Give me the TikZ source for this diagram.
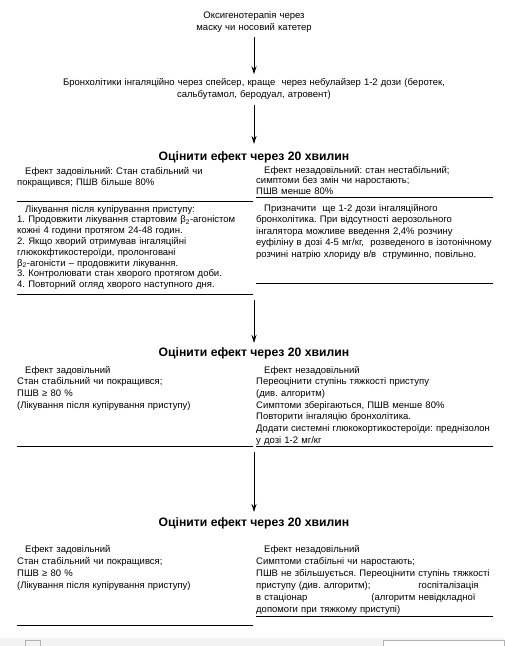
\documentclass[tikz,border=0pt]{standalone}
\usepackage{fontspec}
\setmainfont{Liberation Sans}
\usetikzlibrary{arrows.meta,positioning}
\frenchspacing

\tikzset{
	txt/.style={font=\fontsize{9.5}{11.5}\selectfont,text width=245pt,align=left,anchor=base west,inner sep=0pt},
	mid/.style={font=\fontsize{9.5}{12}\selectfont,text width=440pt,align=center,anchor=base,inner sep=0pt},
	head/.style={font=\fontsize{12.2}{14}\selectfont\bfseries,anchor=base,inner sep=0pt},
	arr/.style={-{Stealth[length=8pt,width=5pt]},line width=0.9pt},
	rule/.style={line width=0.9pt}
}
\newcommand{\ind}{\hspace*{8pt}}

\begin{document}
\begin{tikzpicture}[x=1pt,y=-1pt]
		\useasboundingbox (0,0) rectangle (504,646);
		\node[mid] (oxy) at (254,18) {Оксигенотерапія через\\маску чи носовий катетер};
		\node[mid] (bronch) at (254,85) {Бронхолітики інгаляційно через спейсер, краще\ \ через небулайзер 1-2 дози (беротек,\\сальбутамол, беродуал, атровент)};
		\draw[arr,shorten <=5pt,shorten >=3.5pt] (oxy) -- (bronch);

		\node[head] (eval1) at (254,160) {Оцінити ефект через 20 хвилин};
		\draw[arr,shorten <=5.5pt,shorten >=7pt] (bronch) -- (eval1);

		% first check
		\node[txt] (ok1) at (17,174) {\ind Ефект задовільний: Стан стабільний чи\\покращився; ПШВ більше 80\%};
		\node[txt,font=\fontsize{9.5}{10.8}\selectfont] (care1) at (17,212) {\ind Лікування після купірування приступу:\\
			1. Продовжити лікування стартовим β\textsubscript{2}-агоністом\\
			кожні 4 години протягом 24-48 годин.\\
			2. Якщо хворий отримував інгаляційні\\
			глюкокфтикостероїди, пролонговані\\
			β\textsubscript{2}-агоністи – продовжити лікування.\\
			3. Контролювати стан хворого протягом доби.\\
			4. Повторний огляд хворого наступного дня.};
		\node[txt,font=\fontsize{9.5}{10.8}\selectfont] (bad1) at (256,173) {\ind Ефект незадовільний: стан нестабільний;\\симптоми без змін чи наростають;\\ПШВ менше 80\%};
		\node[txt,font=\fontsize{9.5}{11.5}\selectfont] (more1) at (256,211) {\ind Призначити\ \ ще 1-2 дози інгаляційного\\
			бронхолітика. При відсутності аерозольного\\
			інгалятора можливе введення 2,4\% розчину\\
			еуфіліну в дозі 4-5 мг/кг,\ \ розведеного в ізотонічному\\
			розчині натрію хлориду в/в\ \ струминно, повільно.};
		\draw[rule] (17,201) -- (253,201);
		\draw[rule] (17,294) -- (253,294);
		\draw[rule] (256,197) -- (493,197);
		\draw[rule] (256,283) -- (493,283);

		\coordinate (after1) at (254,300);
		\node[head] (eval2) at (254,356) {Оцінити ефект через 20 хвилин};
		\draw[arr,shorten >=4pt] (after1) -- (eval2);

		% second check
		\node[txt,font=\fontsize{9.5}{11.7}\selectfont] (ok2) at (17,373) {\ind Ефект задовільний\\Стан стабільний чи покращився;\\ПШВ ≥ 80 \%\\(Лікування після купірування приступу)};
		\node[txt,font=\fontsize{9.5}{11.7}\selectfont] (bad2) at (256,373) {\ind Ефект незадовільний\\
			Переоцінити ступінь тяжкості приступу\\
			(див. алгоритм)\\
			Симптоми зберігаються, ПШВ менше 80\%\\
			Повторити інгаляцію бронхолітика.\\
			Додати системні глюкокортикостероїди: преднізолон\\
			у дозі 1-2 мг/кг};
		\draw[rule] (17,446) -- (253,446);
		\draw[rule] (256,446) -- (493,446);

		\coordinate (after2) at (254,452);
		\node[head] (eval3) at (254,526) {Оцінити ефект через 20 хвилин};
		\draw[arr,shorten >=5pt] (after2) -- (eval3);

		% third check
		\node[txt,font=\fontsize{9.5}{12}\selectfont] (ok3) at (17,552) {\ind Ефект задовільний\\Стан стабільний чи покращився;\\ПШВ ≥ 80 \%\\(Лікування після купірування приступу)};
		\node[txt,font=\fontsize{9.5}{12}\selectfont] (bad3) at (256,552) {\ind Ефект незадовільний\\
			Симптоми стабільні чи наростають;\\
			ПШВ не збільшується. Переоцінити ступінь тяжкості\\
			приступу (див. алгоритм);\hspace{48pt}госпіталізація\\
			в стаціонар\hspace{64pt}(алгоритм невідкладної\\
			допомоги при тяжкому приступі)};
		\draw[rule] (256,616) -- (493,616);
		\draw[rule] (17,625) -- (253,625);

		% status bar
		\fill[gray!10] (0,638) rectangle (504,646);
		\draw[gray!60] (25,640) rectangle (40,646);
		\draw[gray!60,fill=white] (383,640) rectangle (504,646);
	\end{tikzpicture}
\end{document}
